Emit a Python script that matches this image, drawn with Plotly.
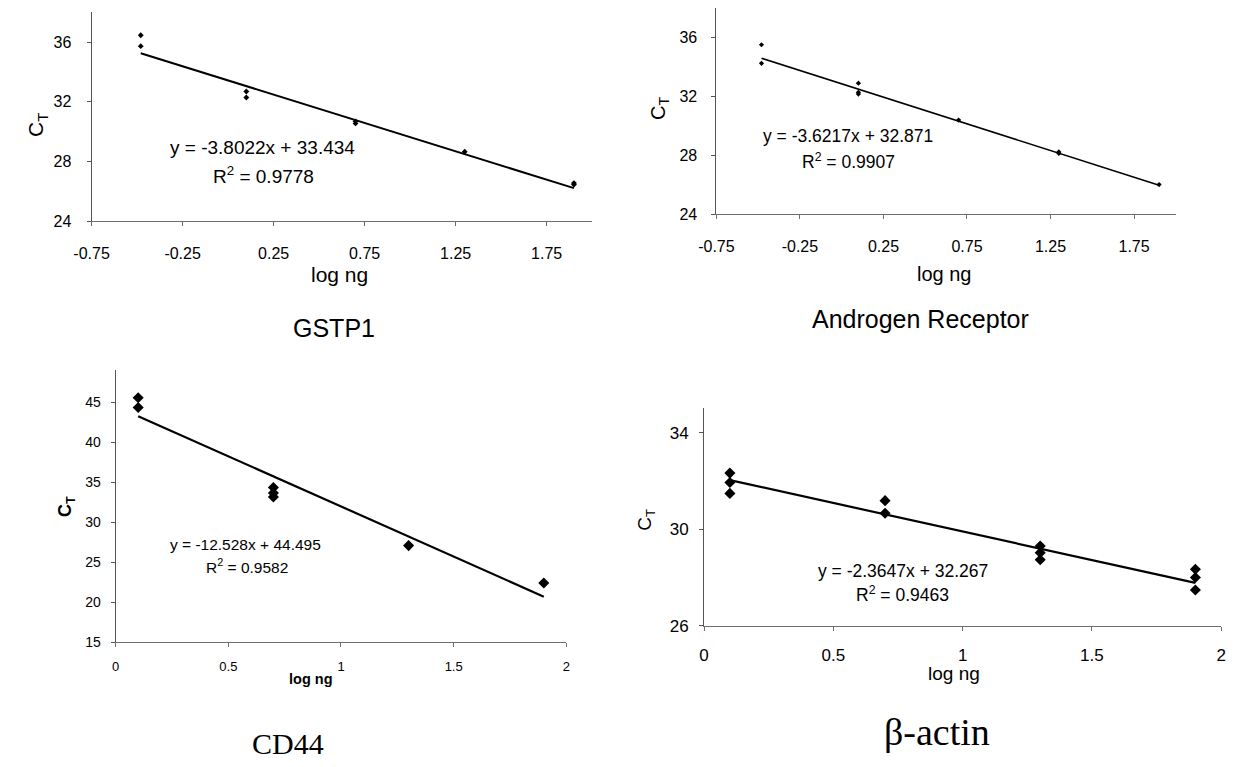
import plotly.graph_objects as go

W, H = 1239, 767

# ---------------- data ----------------
gstp1_x = [-0.48, -0.48, 0.1, 0.1, 0.7, 0.7, 1.3, 1.9, 1.9]
gstp1_y = [36.46, 35.73, 32.69, 32.29, 30.69, 30.55, 28.65, 26.55, 26.45]
gstp1_fit = (-3.8022, 33.434)
gstp1_r2 = "0.9778"

ar_x = [-0.48, -0.48, 0.1, 0.1, 0.1, 0.7, 1.3, 1.3, 1.9]
ar_y = [35.53, 34.27, 32.92, 32.30, 32.18, 30.41, 28.25, 28.15, 26.03]
ar_fit = (-3.6217, 32.871)
ar_r2 = "0.9907"

cd44_x = [0.1, 0.1, 0.7, 0.7, 0.7, 1.3, 1.9]
cd44_y = [45.55, 44.32, 34.34, 33.65, 33.16, 27.07, 22.39]
cd44_fit = (-12.528, 44.495)
cd44_r2 = "0.9582"

bact_x = [0.1, 0.1, 0.1, 0.7, 0.7, 1.3, 1.3, 1.3, 1.9, 1.9, 1.9]
bact_y = [32.32, 31.93, 31.48, 31.18, 30.66, 29.30, 29.02, 28.73, 28.34, 28.00, 27.48]
bact_fit = (-2.3647, 32.267)
bact_r2 = "0.9463"

titles = ["GSTP1", "Androgen Receptor", "CD44", "\u03b2-actin"]

# tick labels
top_xticks = [-0.75, -0.25, 0.25, 0.75, 1.25, 1.75]
top_xtext = ["-0.75", "-0.25", "0.25", "0.75", "1.25", "1.75"]
top_yticks = [24, 28, 32, 36]
bot_xticks = [0, 0.5, 1, 1.5, 2]
bot_xtext = ["0", "0.5", "1", "1.5", "2"]
cd44_yticks = [15, 20, 25, 30, 35, 40, 45]
bact_yticks = [26, 30, 34]

SANS = "Liberation Sans, Arial, sans-serif"
SERIF = "Liberation Serif, Times New Roman, serif"

fig = go.Figure()


def px_x(p):
    return p / W


def px_y(p):
    return 1 - p / H


def add_panel(i, xs, ys, fit, msize, lw):
    xa = "x" if i == 1 else f"x{i}"
    ya = "y" if i == 1 else f"y{i}"
    fig.add_trace(go.Scatter(x=xs, y=ys, mode="markers", xaxis=xa, yaxis=ya,
                             marker=dict(symbol="diamond", size=msize, color="black"),
                             showlegend=False, hoverinfo="skip"))
    x0, x1 = min(xs), max(xs)
    m, b = fit
    fig.add_trace(go.Scatter(x=[x0, x1], y=[m * x0 + b, m * x1 + b], mode="lines",
                             xaxis=xa, yaxis=ya, line=dict(color="black", width=lw),
                             showlegend=False, hoverinfo="skip"))


add_panel(1, gstp1_x, gstp1_y, gstp1_fit, 4.5, 2)
add_panel(2, ar_x, ar_y, ar_fit, 4, 1.6)
add_panel(3, cd44_x, cd44_y, cd44_fit, 8.5, 2.2)
add_panel(4, bact_x, bact_y, bact_fit, 8.5, 2.2)


def axis_common(color, fsize):
    return dict(showgrid=False, zeroline=False, showline=True, linecolor=color,
                linewidth=1, ticks="outside", ticklen=4, tickcolor=color,
                tickfont=dict(family=SANS, size=fsize, color="black"))


# panel geometry (pixels)
p1 = dict(xl=75, xr=585, yb=224, yt=12.5)
p2 = dict(xl=711.6, xr=1179.7, yb=217.3, yt=8.5)
p3 = dict(xl=99.5, xr=558.7, yb=650.7, yt=375)
p4 = dict(xl=699, xr=1226, yb=634, yt=413.8)

XC, YC = "#6e6e6e", "#555555"
lay = {}
lay["xaxis"] = dict(**axis_common(XC, 16), domain=[px_x(p1["xl"]), px_x(p1["xr"])],
                    range=[-0.75, 2.0], tickvals=top_xticks, ticktext=top_xtext,
                    anchor="y", ticklabelstandoff=14)
lay["yaxis"] = dict(**axis_common(YC, 16), domain=[px_y(p1["yb"]), px_y(p1["yt"])],
                    range=[24, 38], tickvals=top_yticks, anchor="x", ticklabelstandoff=12)
lay["xaxis2"] = dict(**axis_common(XC, 16), domain=[px_x(p2["xl"]), px_x(p2["xr"])],
                     range=[-0.75, 2.0], tickvals=top_xticks, ticktext=top_xtext,
                     anchor="y2", ticklabelstandoff=13)
lay["yaxis2"] = dict(**axis_common(YC, 16), domain=[px_y(p2["yb"]), px_y(p2["yt"])],
                     range=[24, 38], tickvals=top_yticks, anchor="x2", ticklabelstandoff=11)
lay["xaxis3"] = dict(**axis_common(XC, 13), domain=[px_x(p3["xl"]), px_x(p3["xr"])],
                     range=[0, 2], tickvals=bot_xticks, ticktext=bot_xtext,
                     anchor="y3", ticklabelstandoff=8)
lay["yaxis3"] = dict(**axis_common(YC, 14), domain=[px_y(p3["yb"]), px_y(p3["yt"])],
                     range=[15, 49], tickvals=cd44_yticks, anchor="x3", ticklabelstandoff=7)
lay["xaxis4"] = dict(**axis_common(XC, 17), domain=[px_x(p4["xl"]), px_x(p4["xr"])],
                     range=[0, 2], tickvals=bot_xticks, ticktext=bot_xtext,
                     anchor="y4", ticklabelstandoff=10)
lay["yaxis4"] = dict(**axis_common(YC, 17), domain=[px_y(p4["yb"]), px_y(p4["yt"])],
                     range=[26, 35], tickvals=bact_yticks, anchor="x4", ticklabelstandoff=7)

ann = []


def text(x, y, s, size, family=SANS, angle=0):
    ann.append(dict(x=px_x(x), y=px_y(y), xref="paper", yref="paper", text=s,
                    showarrow=False, xanchor="center", yanchor="middle",
                    textangle=angle, font=dict(family=family, size=size, color="black")))


# panel 1 texts
text(249, 149, f"y = {gstp1_fit[0]}x + {gstp1_fit[1]}", 19)
text(250, 177.7, f"R<sup>2</sup> = {gstp1_r2}", 19)
text(328, 277.7, "log ng", 21)
text(20, 127, "C<sub>T</sub>", 21, angle=-90)
text(322, 332, titles[0], 25)

# panel 2 texts
text(845.8, 137.7, f"y = {ar_fit[0]}x + {ar_fit[1]}", 17.5)
text(845.8, 163.3, f"R<sup>2</sup> = {ar_r2}", 17.5)
text(943.7, 277.7, "log ng", 20)
text(653.6, 110, "C<sub>T</sub>", 20, angle=-90)
text(920, 323.3, titles[1], 25)

# panel 3 texts
text(231.9, 551.7, f"y = {cd44_fit[0]}x + {cd44_fit[1]}", 15.5)
text(233.3, 573.3, f"R<sup>2</sup> = {cd44_r2}", 15.5)
text(299, 688, "<b>log ng</b>", 14.5)
text(49.4, 513.3, "<b>C<sub>T</sub></b>", 18, angle=-90)
text(275.5, 753.3, titles[2], 30, family=SERIF)

# panel 4 texts
text(901.3, 578.3, f"y = {bact_fit[0]}x + {bact_fit[1]}", 17.5)
text(901.7, 601.7, f"R<sup>2</sup> = {bact_r2}", 17.5)
text(954.2, 682.7, "log ng", 19)
text(639.7, 526.7, "C<sub>T</sub>", 19, angle=-90)
text(936, 741.7, titles[3], 38, family=SERIF)

fig.update_layout(**lay, annotations=ann, width=W, height=H,
                  margin=dict(l=0, r=0, t=0, b=0),
                  paper_bgcolor="white", plot_bgcolor="white", showlegend=False)

fig.write_html("out.html", config={"displayModeBar": False},
               post_script="document.body.style.margin='0';")
